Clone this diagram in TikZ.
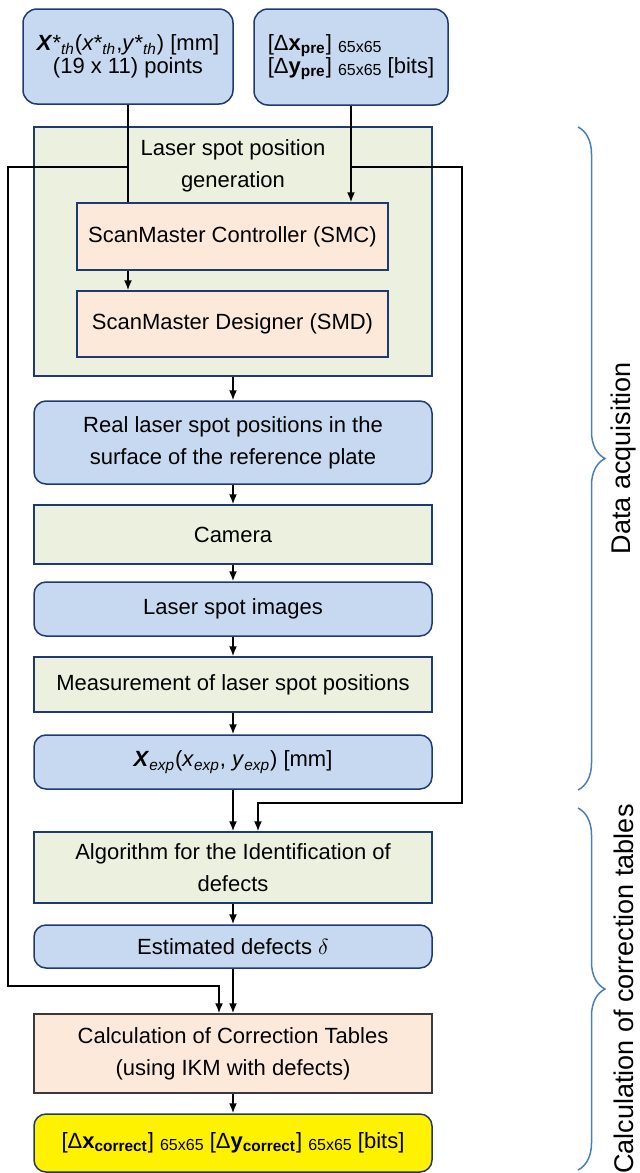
\documentclass[tikz,border=0pt]{standalone}
\usepackage{fontspec}
\setmainfont{Liberation Sans}
\usetikzlibrary{arrows.meta,decorations.pathreplacing}

\definecolor{navy}{HTML}{1F3A70}
\definecolor{bluefill}{HTML}{C6D9F1}
\definecolor{greenfill}{HTML}{EBF1DE}
\definecolor{peachfill}{HTML}{FDE9D9}
\definecolor{calcborder}{HTML}{3A3A3A}
\definecolor{bracecol}{HTML}{4A7EBB}

\newcommand{\isub}[1]{\textsubscript{\textit{#1}}}
\newcommand{\bsub}[1]{\textsubscript{\textbf{#1}}}
\newcommand{\tbl}{\raisebox{-1pt}{\fontsize{8}{8}\selectfont 65x65}}

\begin{document}
\begin{tikzpicture}[x=0.5pt, y=-0.5pt, font=\fontsize{11}{16}\selectfont,
  box/.style={draw=navy, line width=0.75pt, inner sep=0pt, align=center, minimum width=199pt},
  bluebox/.style={box, fill=bluefill, rounded corners=6pt},
  greenbox/.style={box, fill=greenfill},
  peachbox/.style={box, fill=peachfill},
  title/.style={align=center},
  flow/.style={-{Latex[length=5pt,width=4pt]}, line width=0.8pt},
  link/.style={line width=0.8pt},
  brace/.style={decorate, decoration={brace, amplitude=13.5pt}, draw=bracecol, line width=0.75pt},
  phase/.style={rotate=90, font=\fontsize{13.5}{16}\selectfont}]

\useasboundingbox (0,0) rectangle (640,1173);

% inputs
\node[bluebox, minimum width=105pt, minimum height=47.5pt, rounded corners=7pt, font=\fontsize{11}{11.5}\selectfont] (inpos) at (128,56.5)
  {\textbf{\textit{X}}*\isub{th}(\textit{x}*\isub{th},\textit{y}*\isub{th}) [mm]\\(19 x 11) points};
\node[bluebox, minimum width=97pt, minimum height=48pt, rounded corners=7pt, align=left, font=\fontsize{11}{11.5}\selectfont] (inpre) at (351,57)
  {[Δ\textbf{x}\bsub{pre}] \tbl\\{}[Δ\textbf{y}\bsub{pre}] \tbl{} [bits]};

% laser spot position generation
\node[greenbox, minimum height=124.5pt] (gen) at (233,251.5) {};
\node[title] (gentitle) at (233,166) {Laser spot position\\generation};
\node[peachbox, minimum width=155.5pt, minimum height=33.5pt] (smc) at (232.5,236.5) {ScanMaster Controller (SMC)};
\node[peachbox, minimum width=155.5pt, minimum height=33pt] (smd) at (232.5,324) {ScanMaster Designer (SMD)};

% data acquisition chain
\node[bluebox, minimum height=41.5pt] (real) at (233,442.5) {Real laser spot positions in the\\surface of the reference plate};
\node[greenbox, minimum height=29.5pt] (camera) at (233,534.5) {Camera};
\node[bluebox, minimum height=27pt] (images) at (233,609) {Laser spot images};
\node[greenbox, minimum height=27.5pt] (meas) at (233,684.5) {Measurement of laser spot positions};
\node[bluebox, minimum height=27pt] (xexp) at (233,762)
  {\textbf{\textit{X}}\isub{exp}(\textit{x}\isub{exp}, \textit{y}\isub{exp}) [mm]};

% correction tables
\node[greenbox, minimum height=35.5pt] (algo) at (233,867.5) {Algorithm for the Identification of\\defects};
\node[bluebox, minimum height=21.5pt] (est) at (233,946.5) {Estimated defects $\delta$};
\node[peachbox, draw=calcborder, minimum height=39.5pt] (calc) at (233,1053.5) {Calculation of Correction Tables\\(using IKM with defects)};
\node[bluebox, fill=yellow, minimum height=29pt] (out) at (233,1143)
  {[Δ\textbf{x}\bsub{correct}] \tbl{} [Δ\textbf{y}\bsub{correct}] \tbl{} [bits]};

% connectors
\coordinate (jl) at (128,167);
\coordinate (jr) at (351,167);
\coordinate (ll) at (8,986);
\coordinate (rl) at (462,803);

\draw[link] (inpos.south) -- (inpos.south |- smc.north);
\draw[flow] (inpre.south) -- (inpre.south |- smc.north);
\draw[flow] (smc.south -| inpos.south) -- (smd.north -| inpos.south);
\draw[flow] (jl) -| (ll) -| ([xshift=-7pt]calc.north);
\draw[flow] (jr) -| (rl) -| ([xshift=12.5pt]algo.north);

\draw[flow] (gen.south) -- (real.north);
\draw[flow] (real.south) -- (camera.north);
\draw[flow] (camera.south) -- (images.north);
\draw[flow] (images.south) -- (meas.north);
\draw[flow] (meas.south) -- (xexp.north);
\draw[flow] (xexp.south) -- (algo.north);
\draw[flow] (algo.south) -- (est.north);
\draw[flow] (est.south) -- (calc.north);
\draw[flow] (calc.south) -- (out.north);

% phases
\draw[brace] (578,127) -- (578,790);
\node[phase] (acq) at (624,458) {Data acquisition};
\draw[brace] (578,808) -- (578,1170);
\node[phase] (corr) at (624,989) {Calculation of correction tables};

\end{tikzpicture}
\end{document}
